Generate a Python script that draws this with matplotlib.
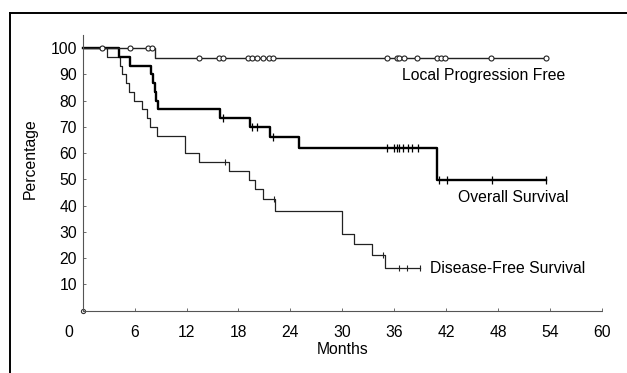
import numpy as np
import matplotlib.pyplot as plt
from matplotlib.lines import Line2D
from matplotlib.transforms import ScaledTranslation

plt.rcParams['font.family'] = ['Liberation Sans', 'DejaVu Sans']
FS = 11.3

# axis ticks
month_ticks = [0, 6, 12, 18, 24, 30, 36, 42, 48, 54, 60]
pct_ticks = [10, 20, 30, 40, 50, 60, 70, 80, 90, 100]

# Local progression free (step times / levels, censored times drawn as circles)
lpf_t = [0, 8.4, 53.6]
lpf_s = [100, 96.4, 96.4]
lpf_cens = [2.2, 5.5, 7.6, 8.0, 13.4, 15.7, 16.2, 19.1, 19.6, 20.2, 20.8, 21.5, 22.0,
            35.2, 36.3, 36.6, 37.1, 38.7, 40.9, 41.4, 41.9, 47.2, 53.6]

# Overall survival
os_t = [0, 4.2, 5.5, 7.9, 8.1, 8.3, 8.5, 8.7, 15.9, 19.3, 21.6, 25.0, 41.0, 53.6]
os_s = [100, 96.7, 93.3, 90.0, 86.7, 83.3, 80.0, 76.7, 73.5, 70.0, 66.0, 62.0, 49.7, 49.7]
os_cens = [16.2, 19.6, 20.1, 22.0, 35.2, 36.0, 36.3, 36.6, 37.0, 37.6, 38.1, 38.8,
           41.2, 42.1, 47.3, 53.6]

# Disease-free survival
dfs_t = [0, 2.8, 4.3, 4.6, 5.0, 5.4, 5.9, 6.9, 7.4, 7.8, 8.6, 11.8, 13.5, 16.9,
         19.2, 19.9, 20.8, 22.2, 30.0, 31.4, 33.5, 34.9, 39.0]
dfs_s = [100, 96.7, 93.3, 90.0, 86.7, 83.3, 80.0, 76.7, 73.3, 70.0, 66.7, 60.0, 56.7, 53.2,
         49.7, 46.2, 42.5, 38.0, 29.4, 25.4, 21.2, 16.4, 16.4]
dfs_cens = [16.45, 22.1, 34.7, 36.6, 37.5, 39.0]


def level_at(t, s, x):
    i = np.searchsorted(t, x, side='right') - 1
    return np.array(s)[i]


fig = plt.figure(figsize=(6.27, 3.73), dpi=100)
ax = fig.add_axes([0.1319, 0.167, 0.8278, 0.739])

ax.step(dfs_t, dfs_s, where='post', color='#222222', lw=0.9, clip_on=False)
ax.plot(dfs_cens, level_at(dfs_t, dfs_s, dfs_cens), ls='none', marker='|',
        ms=5, mew=0.8, color='#222222', clip_on=False)

ax.step(os_t, os_s, where='post', color='black', lw=1.7, clip_on=False)
ax.plot(os_cens, level_at(os_t, os_s, os_cens), ls='none', marker='|',
        ms=5.5, mew=0.9, color='black', clip_on=False)

ax.step(lpf_t, lpf_s, where='post', color='#222222', lw=1.0, clip_on=False)
ax.plot(lpf_cens, level_at(lpf_t, lpf_s, lpf_cens), ls='none', marker='o',
        ms=3.6, mew=0.8, mfc='white', mec='#222222', clip_on=False)

ax.plot([0], [0], marker='o', ms=3, mfc='white', mec='#333333', mew=0.8, clip_on=False)

ax.text(36.9, 89.6, 'Local Progression Free', fontsize=FS, va='center', ha='left')
ax.text(43.4, 43.3, 'Overall Survival', fontsize=FS, va='center', ha='left')
ax.text(40.2, 16.2, 'Disease-Free Survival', fontsize=FS, va='center', ha='left')

ax.set_xlim(0, 60)
ax.set_ylim(0, 105)
ax.set_xticks(month_ticks)
ax.set_yticks(pct_ticks)
for side in ['top', 'right']:
    ax.spines[side].set_visible(False)
for side in ['left', 'bottom']:
    ax.spines[side].set_linestyle((0, (1, 1)))
    ax.spines[side].set_linewidth(0.8)
    ax.spines[side].set_color('#555555')
ax.tick_params(direction='in', length=2.5, width=0.6, color='#555555', labelsize=FS)
ax.tick_params(axis='x', pad=10)
ax.tick_params(axis='y', pad=4)

# the "0" label sits left of the corner in the original
lab0 = ax.get_xticklabels()[0]
lab0.set_transform(lab0.get_transform() + ScaledTranslation(-0.14, 0, fig.dpi_scale_trans))

ax.set_xlabel('Months', fontsize=FS, labelpad=2)
ax.set_ylabel('Percentage', fontsize=FS)
ax.yaxis.set_label_coords(-0.086, 0.55)

# scanned frame lines
fig.add_artist(Line2D([0.016, 0.016], [0, 0.965], color='black', lw=1.4))
fig.add_artist(Line2D([0.016, 1.0], [0.965, 0.965], color='black', lw=1.4))

plt.savefig('out.png', dpi=100)
